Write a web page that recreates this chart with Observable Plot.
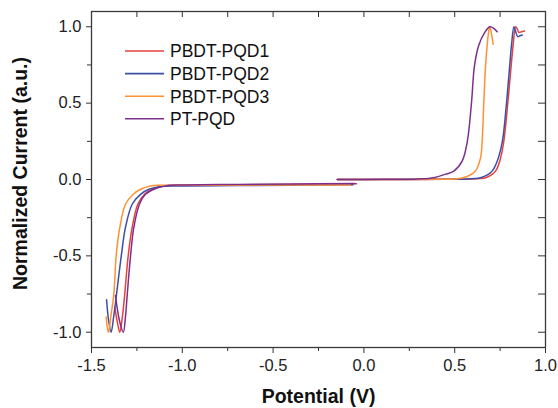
<!DOCTYPE html>
<html>
<head>
<meta charset="utf-8">
<script src="https://cdn.jsdelivr.net/npm/d3@7"></script>
<script src="https://cdn.jsdelivr.net/npm/@observablehq/plot@0.6"></script>
<style>
  html, body { margin: 0; padding: 0; background: #fff; }
  #chart { width: 558px; height: 408px; }
  svg { font-family: "Liberation Sans", Arial, sans-serif; }
</style>
</head>
<body>
<div id="chart"></div>
<script>
// ---- Data ----
const seriesNames = ["PBDT-PQD1", "PBDT-PQD2", "PBDT-PQD3", "PT-PQD"];
const seriesColors = ["#e8403a", "#3d4ea6", "#ff9133", "#7e2f8e"];

// Reduction sweeps (lower branch): [potential V, normalized current]
const pqd1Reduction = [[-1.372,-0.835],[-1.355,-0.95],[-1.344,-1.0],[-1.330,-0.90],[-1.317,-0.75],[-1.298,-0.50],[-1.276,-0.314],[-1.245,-0.162],[-1.208,-0.097],[-1.166,-0.064],[-1.102,-0.042],[-1.0,-0.038],[-0.7,-0.035],[-0.4,-0.032],[-0.04,-0.028]];
const pqd2Reduction = [[-1.417,-0.787],[-1.405,-0.93],[-1.392,-1.0],[-1.378,-0.90],[-1.362,-0.75],[-1.336,-0.50],[-1.313,-0.314],[-1.276,-0.162],[-1.230,-0.097],[-1.184,-0.064],[-1.120,-0.045],[-1.0,-0.042],[-0.7,-0.040],[-0.4,-0.037],[-0.06,-0.034]];
const pqd3Reduction = [[-1.419,-0.90],[-1.413,-0.97],[-1.406,-1.0],[-1.394,-0.90],[-1.377,-0.75],[-1.364,-0.498],[-1.344,-0.314],[-1.313,-0.162],[-1.270,-0.097],[-1.230,-0.064],[-1.175,-0.042],[-1.12,-0.038],[-1.0,-0.038],[-0.7,-0.037],[-0.4,-0.036],[-0.074,-0.036]];
const ptReduction = [[-1.368,-0.76],[-1.345,-0.93],[-1.325,-1.0],[-1.313,-0.90],[-1.303,-0.75],[-1.285,-0.50],[-1.267,-0.314],[-1.236,-0.162],[-1.203,-0.097],[-1.157,-0.064],[-1.093,-0.042],[-1.0,-0.036],[-0.7,-0.032],[-0.4,-0.029],[-0.05,-0.026]];

// Oxidation sweeps (upper branch)
const pqd1Oxidation = [[-0.147,0.0],[0.2,0.0],[0.45,0.001],[0.596,0.003],[0.640,0.006],[0.670,0.012],[0.700,0.028],[0.725,0.055],[0.748,0.12],[0.770,0.246],[0.792,0.496],[0.811,0.746],[0.822,0.881],[0.835,1.0],[0.845,0.985],[0.853,0.963],[0.868,0.967],[0.884,0.972]];
const pqd2Oxidation = [[-0.147,0.0],[0.2,0.0],[0.45,0.001],[0.569,0.003],[0.610,0.006],[0.642,0.012],[0.680,0.030],[0.706,0.055],[0.734,0.12],[0.762,0.246],[0.785,0.496],[0.803,0.746],[0.813,0.881],[0.826,1.0],[0.837,0.963],[0.848,0.935],[0.859,0.941],[0.872,0.946]];
const pqd3Oxidation = [[-0.147,0.0],[0.2,0.0],[0.42,0.002],[0.514,0.005],[0.569,0.02],[0.614,0.055],[0.642,0.14],[0.651,0.246],[0.660,0.496],[0.670,0.746],[0.679,0.881],[0.686,0.96],[0.693,1.0],[0.703,0.95],[0.712,0.885]];
const ptOxidation = [[-0.147,0.0],[0.1,0.001],[0.2935,0.004],[0.385,0.012],[0.450,0.035],[0.495,0.055],[0.541,0.12],[0.569,0.246],[0.592,0.496],[0.609,0.746],[0.633,0.881],[0.664,0.96],[0.693,1.0],[0.715,0.99],[0.734,0.967]];

const xMajor = [-1.5, -1.0, -0.5, 0.0, 0.5, 1.0];
const xMinor = [-1.25, -0.75, -0.25, 0.25, 0.75];
const yMajor = [-1.0, -0.5, 0.0, 0.5, 1.0];
const yMinor = [-0.75, -0.25, 0.25, 0.75];

const xTitle = "Potential (V)";
const yTitle = "Normalized Current (a.u.)";

// ---- Build rows ----
const curves = [
  [seriesNames[0], "red", pqd1Reduction], [seriesNames[0], "ox", pqd1Oxidation],
  [seriesNames[1], "red", pqd2Reduction], [seriesNames[1], "ox", pqd2Oxidation],
  [seriesNames[2], "red", pqd3Reduction], [seriesNames[2], "ox", pqd3Oxidation],
  [seriesNames[3], "red", ptReduction],   [seriesNames[3], "ox", ptOxidation]
];
const rows = [];
for (const [name, branch, pts] of curves) {
  for (const [p, v] of pts) rows.push({series: name, branch: name + "-" + branch, p, v});
}

const W = 558, H = 408;
const mL = 91, mR = 13, mT = 11, mB = 61;
const innerW = W - mL - mR, innerH = H - mT - mB;
const fmt = d => d.toFixed(1);
const ink = "#333";

const chart = Plot.plot({
  width: W, height: H,
  marginLeft: mL, marginRight: mR, marginTop: mT, marginBottom: mB,
  style: {fontFamily: '"Liberation Sans", Arial, sans-serif', background: "#fff", color: "#222"},
  x: {domain: [-1.5, 1.0]},
  y: {domain: [-1.1, 1.1]},
  color: {domain: seriesNames, range: seriesColors},
  marks: [
    Plot.line(rows, {x: "p", y: "v", z: "branch", stroke: "series", curve: "catmull-rom", strokeWidth: 1.5}),
    Plot.axisX({ticks: xMajor, anchor: "bottom", tickSize: 6, tickPadding: 6, tickFormat: fmt, fontSize: 16.5, label: null, stroke: ink}),
    Plot.axisX({ticks: xMinor, anchor: "bottom", tickSize: 4, tickFormat: () => "", label: null, stroke: ink}),
    Plot.axisY({ticks: yMajor, anchor: "left", tickSize: 5, tickPadding: 5, tickFormat: fmt, fontSize: 16.5, label: null, stroke: ink}),
    Plot.axisY({ticks: yMinor, anchor: "left", tickSize: 4, tickFormat: () => "", label: null, stroke: ink}),
    Plot.ruleX(xMajor.concat(xMinor), {insetBottom: innerH - 6, stroke: ink, strokeWidth: 1}),
    Plot.ruleY(yMajor.concat(yMinor), {insetLeft: innerW - 7, stroke: ink, strokeWidth: 1}),
    Plot.frame({stroke: "#3a3a3a", strokeWidth: 1.3}),
    Plot.text([xTitle], {frameAnchor: "bottom", textAnchor: "middle", dy: 55, fontSize: 19.5, fontWeight: "bold", fill: "#111"}),
    Plot.text([yTitle], {frameAnchor: "left", textAnchor: "middle", rotate: -90, dx: -71, dy: -6, fontSize: 19.5, fontWeight: "bold", fill: "#111"})
  ]
});
document.getElementById("chart").appendChild(chart);

// ---- Legend (inside plot, top-left) ----
const svg = d3.select(chart);
const lg = svg.append("g").attr("class", "legend").attr("text-anchor", "start");
const legendY0 = 51, legendDy = 22.6, lx0 = 125, lx1 = 164, tx = 170;
seriesNames.forEach((name, i) => {
  const y = legendY0 + i * legendDy;
  lg.append("line").attr("x1", lx0).attr("x2", lx1).attr("y1", y).attr("y2", y)
    .attr("stroke", seriesColors[i]).attr("stroke-width", 1.6);
  lg.append("text").attr("x", tx).attr("y", y).attr("dy", "0.36em")
    .attr("text-anchor", "start")
    .attr("font-size", 17.5).attr("fill", "#111").text(name);
});
</script>
</body>
</html>
